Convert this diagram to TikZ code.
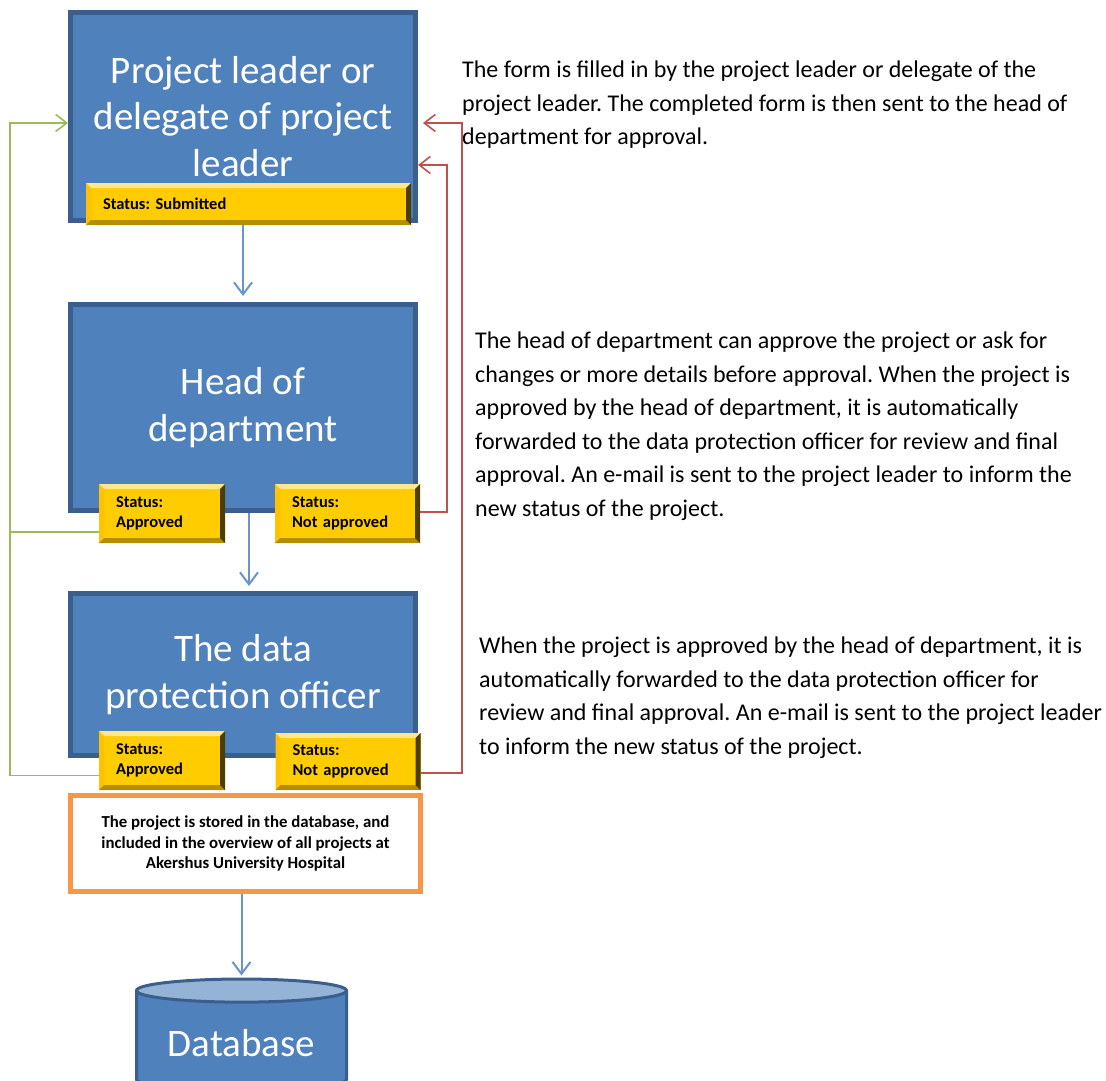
\documentclass[tikz,border=0pt]{standalone}
\usepackage{fontspec}
\setmainfont{Carlito}
\frenchspacing
\usetikzlibrary{arrows.meta, positioning, shapes.geometric, calc}

\definecolor{boxblue}{HTML}{4F81BD}
\definecolor{boxedge}{HTML}{3A5F8D}
\definecolor{gold}{HTML}{FFCC00}
\definecolor{oklink}{HTML}{9BBB59}
\definecolor{nolink}{HTML}{C0504D}
\definecolor{dbtop}{HTML}{95B3D7}
\definecolor{storeedge}{HTML}{F79646}
\definecolor{flowblue}{HTML}{6A95CB}

\begin{document}
\begin{tikzpicture}[x=1pt, y=-1pt,
        role/.style={draw=boxedge, line width=5pt, fill=boxblue, text=white, align=center, font=\fontsize{39}{46.5}\selectfont},
        status/.style={fill=gold, inner xsep=17pt, inner ysep=0pt, align=left, text=black, font=\fontsize{16.5}{20}\selectfont\bfseries,
            path picture={
                % bevelled rim: light top, warm left, dark right and bottom
                \fill[gold!45!white] (path picture bounding box.north west) -- (path picture bounding box.north east)
                    -- ([shift={(-5pt,-5pt)}]path picture bounding box.north east) -- ([shift={(5pt,-5pt)}]path picture bounding box.north west) -- cycle;
                \fill[gold!85!orange] (path picture bounding box.north west) -- ([shift={(5pt,-5pt)}]path picture bounding box.north west)
                    -- ([shift={(5pt,5pt)}]path picture bounding box.south west) -- (path picture bounding box.south west) -- cycle;
                \fill[gold!70!black] (path picture bounding box.south west) -- (path picture bounding box.south east)
                    -- ([shift={(-5pt,5pt)}]path picture bounding box.south east) -- ([shift={(5pt,5pt)}]path picture bounding box.south west) -- cycle;
                \fill[gold!30!black] (path picture bounding box.north east) -- (path picture bounding box.south east)
                    -- ([shift={(-5pt,5pt)}]path picture bounding box.south east) -- ([shift={(-5pt,-5pt)}]path picture bounding box.north east) -- cycle;
            }},
        store/.style={draw=storeedge, line width=5pt, fill=white, align=center, font=\fontsize{16.8}{20.5}\selectfont\bfseries},
        note/.style={anchor=north west, inner sep=0pt, align=left, font=\fontsize{24}{33.5}\selectfont},
        flow/.style={draw=flowblue, line width=2pt, -{Straight Barb[length=12pt, width=18pt]}},
        accept/.style={draw=oklink, line width=1.6pt},
        reject/.style={draw=nolink, line width=1.6pt},
        tip/.style={-{Straight Barb[length=11pt, width=17pt]}}
    ]
        \useasboundingbox (0,0) rectangle (1106,1081);

        % --- Roles ---
        \node[role, minimum width=345pt, minimum height=208pt] (leader) at (243,116.5) {Project leader or\\delegate of project\\leader};
        \node[role, minimum width=345pt, minimum height=206pt] (head) at (243,407.5) {Head of\\department};
        \node[role, minimum width=345pt, minimum height=162pt] (dpo) at (243,674.5) {The data\\protection officer};

        % --- Status tags ---
        \node[status, text width=291pt, minimum height=42pt] (submitted) at (248.5,204) {Status: Submitted};
        \node[status, text width=92pt, minimum height=59pt] (headok) at (162,513.5) {Status:\\Approved};
        \node[status, text width=111pt, minimum height=59pt] (headno) at (347.5,513.5) {Status:\\Not approved};
        \node[status, text width=92pt, minimum height=59pt] (dpook) at (162,760.5) {Status:\\Approved};
        \node[status, text width=111pt, minimum height=57pt] (dpono) at (348,761.5) {Status:\\Not approved};

        % --- Storage ---
        \node[store, minimum width=350pt, minimum height=96pt] (stored) at (245.5,843.5) {The project is stored in the database, and\\included in the overview of all projects at\\Akershus University Hospital};
        \node[cylinder, shape border rotate=90, aspect=0.15, draw=boxedge, line width=3pt,
              cylinder uses custom fill, cylinder body fill=boxblue, cylinder end fill=dbtop,
              minimum width=210pt, minimum height=112pt, text=white, font=\fontsize{39}{44}\selectfont] (db) at (241.5,1043) {Database};

        % --- Notes ---
        \node[note] (formnote) at (462,61) {The form is filled in by the project leader or delegate of the\\project leader. The completed form is then sent to the head of\\department for approval.};
        \node[note] (headnote) at (475,332) {The head of department can approve the project or ask for\\changes or more details before approval. When the project is\\approved by the head of department, it is automatically\\forwarded to the data protection officer for review and final\\approval. An e-mail is sent to the project leader to inform the\\new status of the project.};
        \node[note] (dponote) at (479,637) {When the project is approved by the head of department, it is\\automatically forwarded to the data protection officer for\\review and final approval. An e-mail is sent to the project leader\\to inform the new status of the project.};

        % --- Main flow ---
        \draw[flow, shorten >=6pt] (submitted.south -| head.north) -- (head.north);
        \draw[flow, shorten >=5pt] ([xshift=6pt]head.south) -- ([xshift=6pt]dpo.north);
        \draw[flow, shorten >=2pt] (db.north |- stored.south) -- (db.north);

        % --- Approved: back to the project leader on the left rail ---
        \coordinate (okrail) at (10,0);
        \draw[accept, tip] ([yshift=-15pt]dpook.west) -- ([yshift=-15pt]dpook.west -| okrail) |- ([yshift=-6.5pt]leader.west);
        \draw[accept] ([yshift=-18.5pt]headok.west) -- ([yshift=-18.5pt]headok.west -| okrail);

        % --- Not approved: returned on the right rails ---
        \coordinate (headrail) at (447,0);
        \coordinate (dporail) at (462,0);
        \draw[reject, tip] ([yshift=1.5pt]headno.east) -- ([yshift=1.5pt]headno.east -| headrail) |- ([yshift=-48.5pt]leader.east);
        \draw[reject, tip] ([yshift=-11.5pt]dpono.east) -- ([yshift=-11.5pt]dpono.east -| dporail) |- ([shift={(5pt,-6.5pt)}]leader.east);
    \end{tikzpicture}
\end{document}
